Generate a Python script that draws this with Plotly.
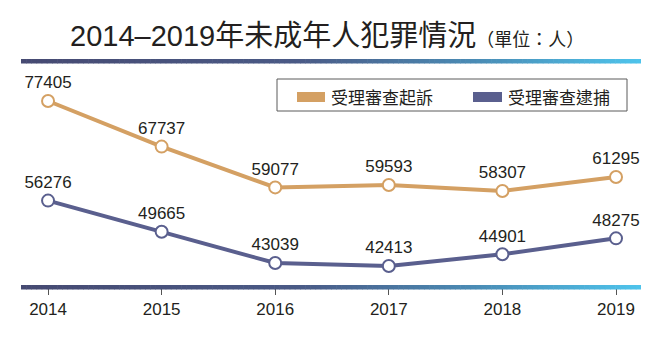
import plotly.graph_objects as go

years = [2014, 2015, 2016, 2017, 2018, 2019]
prosecution = [77405, 67737, 59077, 59593, 58307, 61295]
arrest = [56276, 49665, 43039, 42413, 44901, 48275]
series_names = ["受理審查起訴", "受理審查逮捕"]
series_colors = ["#d4a063", "#5a5f8e"]
title_main = "2014–2019年未成年人犯罪情況"
title_unit = "（單位：人）"

W, H = 669, 353
L, R, T, B = 21, 641, 61, 287  # plot area in pixels
FONT = "Liberation Sans, Arial, Noto Sans CJK TC, sans-serif"
CJK = "Noto Sans CJK TC, Liberation Sans, sans-serif"
TXT = "#231f20"


def px(x):
    return (x - L) / (R - L)


def py(y):
    return (B - y) / (B - T)


fig = go.Figure()
for vals, name, col in zip([prosecution, arrest], series_names, series_colors):
    fig.add_trace(go.Scatter(
        x=years, y=vals, name=name, mode="lines+markers+text",
        line=dict(color=col, width=4),
        marker=dict(size=12, color="white", line=dict(color=col, width=2)),
        text=[str(v) for v in vals], textposition="top center",
        textfont=dict(family=FONT, size=17, color=TXT),
        cliponaxis=False, showlegend=False,
    ))

shapes = []


def lerp(c1, c2, t):
    return tuple(round(a + (b - a) * t) for a, b in zip(c1, c2))


stops = [(0.0, (70, 74, 114)), (0.45, (74, 90, 134)), (0.75, (74, 143, 184)), (1.0, (78, 196, 236))]


def grad(t):
    for i in range(len(stops) - 1):
        t0, c0 = stops[i]
        t1, c1 = stops[i + 1]
        if t <= t1:
            return lerp(c0, c1, (t - t0) / (t1 - t0))
    return stops[-1][1]


N = 120
for y0, y1 in [(59, 63.5), (285, 289.5)]:
    for i in range(N):
        xa = L + (R - L) * i / N
        xb = L + (R - L) * (i + 1) / N + 0.6
        c = grad((i + 0.5) / N)
        shapes.append(dict(type="rect", xref="paper", yref="paper",
                           x0=px(xa), x1=px(min(xb, R)), y0=py(y1), y1=py(y0),
                           fillcolor="rgb(%d,%d,%d)" % c, line=dict(width=0), layer="above"))

# legend box
shapes.append(dict(type="rect", xref="paper", yref="paper", x0=px(277), x1=px(627), y0=py(111), y1=py(79),
                   line=dict(color="#5a5a5a", width=1), fillcolor="white", layer="below"))
annotations = []
for (sx0, sx1, tx), name, col in zip([(297, 325, 329), (473, 502, 506)], series_names, series_colors):
    shapes.append(dict(type="rect", xref="paper", yref="paper", x0=px(sx0), x1=px(sx1),
                       y0=py(102), y1=py(92), fillcolor=col, line=dict(width=0)))
    annotations.append(dict(xref="paper", yref="paper", x=px(tx), y=py(96), text=name, showarrow=False,
                            xanchor="left", yanchor="middle", font=dict(family=CJK, size=17, color=TXT)))

annotations.append(dict(
    xref="paper", yref="paper", x=px(327), y=py(36), xanchor="center", yanchor="middle", showarrow=False,
    text=title_main + "<span style='font-size:18px'>" + title_unit + "</span>",
    font=dict(family=FONT, size=29, color=TXT),
))

fig.update_layout(
    width=W, height=H, margin=dict(l=L, r=W - R, t=T, b=H - B),
    paper_bgcolor="white", plot_bgcolor="white",
    shapes=shapes, annotations=annotations,
    xaxis=dict(range=[2013.762, 2019.22], tickmode="array", tickvals=years, ticktext=[str(y) for y in years],
               ticks="outside", ticklen=7, tickcolor="#555", tickwidth=1, showgrid=False, zeroline=False,
               showline=False, tickfont=dict(family=FONT, size=17, color=TXT), fixedrange=True),
    yaxis=dict(range=[37956, 85889], visible=False, showgrid=False, zeroline=False, fixedrange=True),
    showlegend=False,
)
fig.write_html("out.html", config={"displayModeBar": False})
